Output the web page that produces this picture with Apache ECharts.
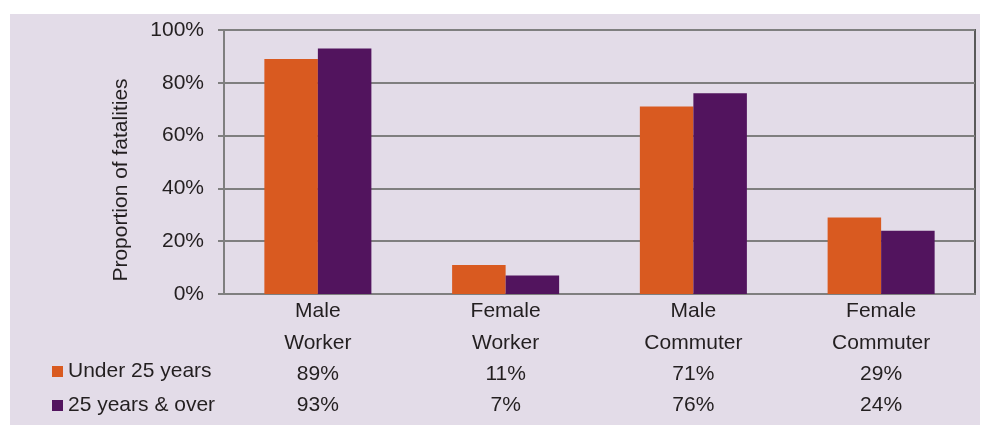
<!DOCTYPE html>
<html>
<head>
<meta charset="utf-8">
<script src="https://cdn.jsdelivr.net/npm/echarts@6/dist/echarts.min.js"></script>
<style>
  html, body { margin: 0; padding: 0; background: #ffffff; }
  #chart { width: 981px; height: 426px; }
</style>
</head>
<body>
<div id="chart"></div>
<script>
// Fatality proportions by sex and trip type, split by age group
const categories = ['Male\nWorker', 'Female\nWorker', 'Male\nCommuter', 'Female\nCommuter'];
const seriesNames = ['Under 25 years', '25 years & over'];
const under25 = [89, 11, 71, 29];
const over25 = [93, 7, 76, 24];
const yTicks = [0, 20, 40, 60, 80, 100];

const textColor = '#231f20';
const font = 'Liberation Sans, Arial, sans-serif';

const chart = echarts.init(document.getElementById('chart'));

chart.setOption({
  animation: false,
  backgroundColor: '#ffffff',
  textStyle: { fontFamily: font, color: textColor },
  graphic: [
    {
      type: 'rect',
      z: -10,
      shape: { x: 10, y: 14, width: 970, height: 411 },
      style: { fill: '#e3dce8' }
    },
    {
      type: 'text',
      x: 121,
      y: 180,
      rotation: Math.PI / 2,
      style: {
        text: 'Proportion of fatalities',
        fontFamily: font,
        fontSize: 21,
        fill: textColor,
        align: 'center',
        verticalAlign: 'middle'
      }
    }
  ],
  grid: {
    left: 224,
    right: 6,
    top: 30,
    bottom: 132,
    show: true,
    backgroundColor: 'transparent',
    borderColor: '#5a5a5a',
    borderWidth: 2
  },
  legend: {
    orient: 'vertical',
    left: 52,
    top: 361,
    padding: 0,
    itemGap: 13,
    itemWidth: 11,
    itemHeight: 11,
    icon: 'rect',
    selectedMode: false,
    textStyle: { fontFamily: font, fontSize: 21, color: textColor, lineHeight: 20 },
    data: seriesNames
  },
  xAxis: {
    type: 'category',
    data: categories,
    axisLine: { lineStyle: { color: '#7f7f7f', width: 2 } },
    axisTick: { show: false },
    axisLabel: {
      fontFamily: font,
      fontSize: 21,
      color: textColor,
      lineHeight: 31.3,
      margin: 2,
      formatter: function (value, idx) {
        return value + '\n' + under25[idx] + '%\n' + over25[idx] + '%';
      }
    }
  },
  yAxis: {
    type: 'value',
    min: yTicks[0],
    max: yTicks[yTicks.length - 1],
    interval: yTicks[1] - yTicks[0],
    axisLine: { show: true, lineStyle: { color: '#7f7f7f', width: 2 } },
    axisTick: { show: true, length: 6, lineStyle: { color: '#7f7f7f', width: 2 } },
    splitLine: { lineStyle: { color: '#7f7f7f', width: 2 } },
    axisLabel: {
      fontFamily: font,
      fontSize: 21,
      color: textColor,
      margin: 20,
      formatter: '{value}%'
    }
  },
  series: [
    {
      name: seriesNames[0],
      type: 'bar',
      data: under25,
      barGap: '0%',
      barCategoryGap: '43%',
      itemStyle: { color: '#d95a20' }
    },
    {
      name: seriesNames[1],
      type: 'bar',
      data: over25,
      itemStyle: { color: '#52145e' }
    }
  ]
});
</script>
</body>
</html>
